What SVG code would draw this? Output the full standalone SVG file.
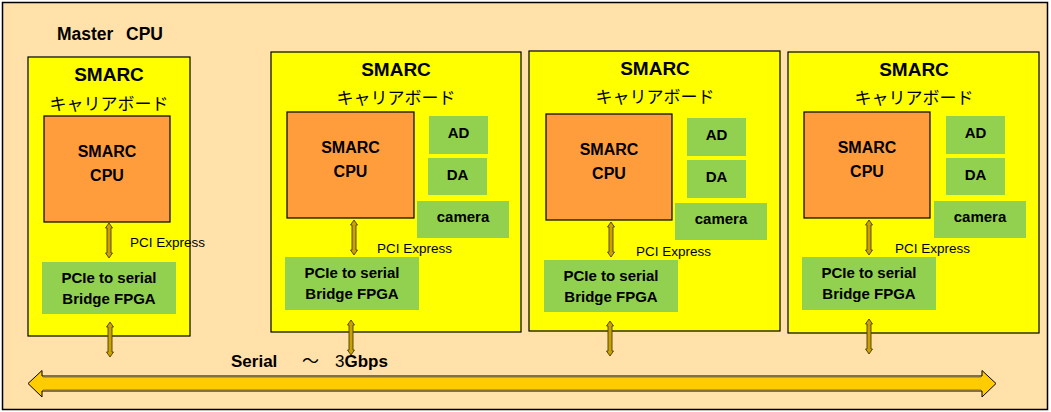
<svg xmlns="http://www.w3.org/2000/svg" width="1051" height="412" viewBox="0 0 1051 412">
<style>
.bg{fill:#FFE1A9;stroke:#000;stroke-width:1.5}
.board{fill:#FFFF00;stroke:#000;stroke-width:1.2}
.cpu{fill:#FF9D3D;stroke:#000;stroke-width:1.2}
.grn{fill:#92D050}
.t{font-family:"Liberation Sans",Arial,sans-serif;font-weight:bold;fill:#000;text-anchor:middle}
.title{font-size:19px}
.jp{font-family:"Noto Sans CJK JP","Noto Sans",sans-serif;font-size:17px;fill:#000;text-anchor:middle}
.b16{font-size:16px}
.b15{font-size:15px}
.pci{font-family:"Liberation Sans",Arial,sans-serif;font-size:13.5px;fill:#000}
.arr{fill:#C9A100;stroke:#4A3C00;stroke-width:0.9}
.bus{fill:#FFCC00;stroke:#000;stroke-width:1}
.busedge{stroke:#85703C;stroke-width:2;fill:none}
</style>
<defs>
<polygon id="dbl" class="arr" points="0,0 3.5,5 2,5 2,30 3.5,30 0,35 -3.5,30 -2,30 -2,5 -3.5,5"/>
</defs>
<rect class="bg" x="2.5" y="2.5" width="1045" height="407"/>
<text class="t" x="57" y="40" font-size="17.5" style="text-anchor:start">Master<tspan x="126">CPU</tspan></text>

<g id="board-master">
<rect class="board" x="28" y="57" width="162" height="279"/>
<text class="t title" x="109" y="81">SMARC</text>
<text class="jp" x="109" y="110">キャリアボード</text>
<g id="master-cpu">
<rect class="cpu" x="44" y="116" width="126" height="106"/>
<text class="t b16" x="107" y="157">SMARC</text>
<text class="t b16" x="107" y="181">CPU</text>
</g>
<g id="master-fpga">
<rect class="grn" x="42" y="262" width="134" height="52"/>
<text class="t b15" x="109" y="283">PCIe to serial</text>
<text class="t b15" x="109" y="304">Bridge FPGA</text>
</g>
</g>

<g id="board-2">
<rect class="board" x="271" y="52" width="250" height="280"/>
<text class="t title" x="396" y="76">SMARC</text>
<text class="jp" x="396" y="104">キャリアボード</text>
<g id="b2-cpu">
<rect class="cpu" x="287" y="112" width="127" height="106"/>
<text class="t b16" x="350.5" y="153">SMARC</text>
<text class="t b16" x="350.5" y="176.5">CPU</text>
</g>
<g id="b2-ad"><rect class="grn" x="429" y="116" width="59" height="38"/><text class="t b15" x="458.5" y="137.5">AD</text></g>
<g id="b2-da"><rect class="grn" x="428" y="158" width="59" height="37"/><text class="t b15" x="457.5" y="179.5">DA</text></g>
<g id="b2-cam"><rect class="grn" x="417" y="201" width="92" height="37"/><text class="t b15" x="463" y="222">camera</text></g>
<g id="b2-fpga">
<rect class="grn" x="285" y="257" width="134" height="53"/>
<text class="t b15" x="352" y="278">PCIe to serial</text>
<text class="t b15" x="352" y="299">Bridge FPGA</text>
</g>
</g>

<g id="board-3">
<rect class="board" x="529" y="51" width="251" height="280"/>
<text class="t title" x="655" y="75">SMARC</text>
<text class="jp" x="655" y="103">キャリアボード</text>
<g id="b3-cpu">
<rect class="cpu" x="546" y="114" width="126" height="106"/>
<text class="t b16" x="609" y="155">SMARC</text>
<text class="t b16" x="609" y="178.5">CPU</text>
</g>
<g id="b3-ad"><rect class="grn" x="687" y="118" width="59" height="38"/><text class="t b15" x="716.5" y="139.5">AD</text></g>
<g id="b3-da"><rect class="grn" x="687" y="160" width="59" height="38"/><text class="t b15" x="716.5" y="181.5">DA</text></g>
<g id="b3-cam"><rect class="grn" x="675" y="203" width="92" height="37"/><text class="t b15" x="721" y="224">camera</text></g>
<g id="b3-fpga">
<rect class="grn" x="544" y="260" width="134" height="52"/>
<text class="t b15" x="611" y="281">PCIe to serial</text>
<text class="t b15" x="611" y="302">Bridge FPGA</text>
</g>
</g>

<g id="board-4">
<rect class="board" x="788" y="52" width="251" height="281"/>
<text class="t title" x="914" y="76">SMARC</text>
<text class="jp" x="914" y="104">キャリアボード</text>
<g id="b4-cpu">
<rect class="cpu" x="804" y="112" width="126" height="106"/>
<text class="t b16" x="867" y="153">SMARC</text>
<text class="t b16" x="867" y="176.5">CPU</text>
</g>
<g id="b4-ad"><rect class="grn" x="946" y="116" width="59" height="38"/><text class="t b15" x="975.5" y="137.5">AD</text></g>
<g id="b4-da"><rect class="grn" x="946" y="158" width="59" height="37"/><text class="t b15" x="975.5" y="179.5">DA</text></g>
<g id="b4-cam"><rect class="grn" x="934" y="201" width="92" height="37"/><text class="t b15" x="980" y="222">camera</text></g>
<g id="b4-fpga">
<rect class="grn" x="802" y="257" width="134" height="53"/>
<text class="t b15" x="869" y="278">PCIe to serial</text>
<text class="t b15" x="869" y="299">Bridge FPGA</text>
</g>
</g>

<g id="connectors">
<use href="#dbl" x="109" y="223"/>
<use href="#dbl" x="110" y="322"/>
<use href="#dbl" x="354" y="220"/>
<use href="#dbl" x="351" y="320"/>
<use href="#dbl" x="611" y="222"/>
<use href="#dbl" x="610" y="321"/>
<use href="#dbl" x="869" y="220"/>
<use href="#dbl" x="869" y="319"/>
<polygon class="bus" points="28,383.5 42,370.5 42,376 982,376 982,370.5 996,383.5 982,397 982,391 42,391 42,397"/>
<line class="busedge" x1="43" y1="376.5" x2="981" y2="376.5"/>
<line class="busedge" x1="43" y1="390.5" x2="981" y2="390.5"/>
</g>

<text class="pci" x="130" y="247">PCI Express</text>
<text class="pci" x="377" y="253">PCI Express</text>
<text class="pci" x="636" y="256">PCI Express</text>
<text class="pci" x="895" y="253">PCI Express</text>

<text class="t" x="231" y="367" font-size="17" style="text-anchor:start">Serial<tspan x="302" font-family="Noto Sans CJK JP, sans-serif" font-weight="normal">～</tspan><tspan x="335" font-weight="normal">3</tspan>Gbps</text>
</svg>
